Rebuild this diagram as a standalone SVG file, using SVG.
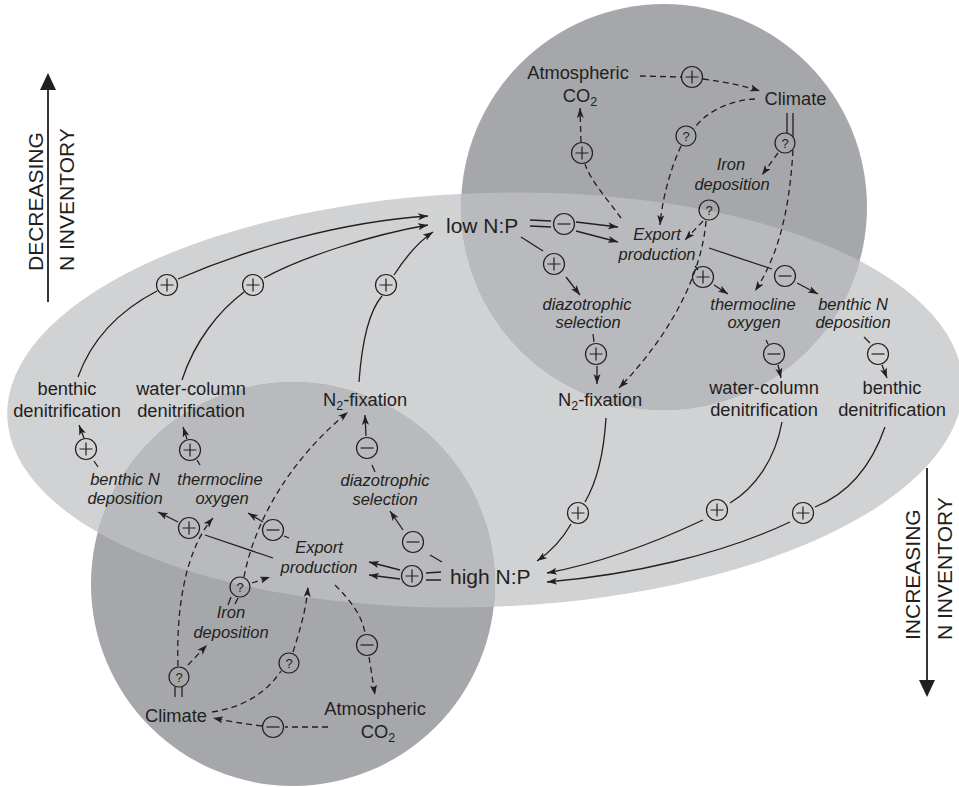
<svg xmlns="http://www.w3.org/2000/svg" xmlns:xlink="http://www.w3.org/1999/xlink" width="959" height="787" viewBox="0 0 959 787">
<style>
.t{font-family:"Liberation Sans",Arial,sans-serif;font-size:18.3px;fill:#231f20;text-anchor:middle}
.i{font-style:italic;font-size:16.5px}
.b{font-size:21px;text-anchor:start}
.q{font-size:13px}
.s{stroke:#231f20;stroke-width:1.3;fill:none}
.d{stroke-dasharray:6 4}
.c{fill:none;stroke:#231f20;stroke-width:1.2}
.ax{stroke:#231f20;stroke-width:1.8;fill:none}
</style>
<defs>
<marker id="a" markerUnits="userSpaceOnUse" markerWidth="10" markerHeight="8" refX="10" refY="3.5" orient="auto">
<path d="M0,0 L10,3.5 L0,7 L2.5,3.5 Z" fill="#231f20"/>
</marker>
<g id="p"><circle class="c" r="10.5"/><path class="c" d="M-6.5 0H6.5M0 -6.5V6.5"/></g>
<g id="m"><circle class="c" r="10.5"/><path class="c" d="M-6.5 0H6.5"/></g>
<circle id="qc" class="c" r="10"/>
<clipPath id="ec"><ellipse cx="485" cy="400" rx="478" ry="207" transform="rotate(-2 485 400)"/></clipPath>
</defs>
<rect width="959" height="787" fill="#fff"/>
<g id="background">
<ellipse cx="485" cy="400" rx="478" ry="207" transform="rotate(-2 485 400)" fill="#d1d2d4"/>
<circle cx="664" cy="207" r="203" fill="#a6a7aa"/>
<circle cx="293" cy="584" r="202" fill="#a6a7aa"/>
<g clip-path="url(#ec)" fill="#b9babd">
<circle cx="664" cy="207" r="203"/>
<circle cx="293" cy="584" r="202"/>
</g>
</g>

<g id="axes">
<path class="ax" d="M48 88V302"/>
<polygon points="48,73 40,90 56,90" fill="#231f20"/>
<text class="t b" transform="translate(43,271) rotate(-90)">DECREASING</text>
<text class="t b" transform="translate(74,271) rotate(-90)">N INVENTORY</text>
<path class="ax" d="M927 468V683"/>
<polygon points="927,697 919,680 935,680" fill="#231f20"/>
<text class="t b" transform="translate(920,640) rotate(-90)">INCREASING</text>
<text class="t b" transform="translate(952,640) rotate(-90)">N INVENTORY</text>
</g>

<g id="connectors">
<!-- left solid loops to low N:P -->
<path class="s" d="M78 377C95 330 130 305 157 291"/>
<path class="s" d="M178 279C250 248 340 222 428 216" marker-end="url(#a)"/>
<path class="s" d="M182 380C195 340 220 310 244 292"/>
<path class="s" d="M264 278C300 258 370 235 428 225" marker-end="url(#a)"/>
<path class="s" d="M359 382C362 340 370 310 382 296"/>
<path class="s" d="M394 275C405 258 418 242 433 232" marker-end="url(#a)"/>
<!-- low N:P -->
<path class="s" d="M530 220L551 221M530 226L551 227"/>
<path class="s" d="M576 222L618 227" marker-end="url(#a)"/>
<path class="s" d="M576 231L618 242" marker-end="url(#a)"/>
<path class="s" d="M521 237L543 251"/>
<path class="s" d="M566 277L580 295" marker-end="url(#a)"/>
<path class="s" d="M593 334L594 342"/>
<path class="s" d="M597 366L597 384" marker-end="url(#a)"/>
<path class="s" d="M695 266L698 270"/>
<path class="s" d="M714 285L728 294" marker-end="url(#a)"/>
<path class="s" d="M709 248L772 269"/>
<path class="s" d="M797 283L818 294" marker-end="url(#a)"/>
<path class="s" d="M766 340L768 344"/>
<path class="s" d="M778 365L781 378" marker-end="url(#a)"/>
<path class="s" d="M864 337L870 343"/>
<path class="s" d="M882 365L887 378" marker-end="url(#a)"/>
<!-- right solid loops to high N:P -->
<path class="s" d="M606 418C604 450 598 480 585 502"/>
<path class="s" d="M571 524C562 540 550 552 537 561" marker-end="url(#a)"/>
<path class="s" d="M782 422C775 460 755 488 730 503"/>
<path class="s" d="M703 520C650 545 600 563 547 573" marker-end="url(#a)"/>
<path class="s" d="M885 427C870 470 845 495 815 507"/>
<path class="s" d="M790 522C720 555 630 575 547 582" marker-end="url(#a)"/>
<!-- high N:P -->
<path class="s" d="M426 573L441 572M426 580L441 580"/>
<path class="s" d="M400 570L369 562" marker-end="url(#a)"/>
<path class="s" d="M400 579L369 575" marker-end="url(#a)"/>
<path class="s" d="M442 562L430 555"/>
<path class="s" d="M403 530L390 511" marker-end="url(#a)"/>
<path class="s" d="M372 465L375 472"/>
<path class="s" d="M366 436L365 415" marker-end="url(#a)"/>
<path class="s" d="M284 536L289 538"/>
<path class="s" d="M263 522L248 513" marker-end="url(#a)"/>
<path class="s" d="M273 558L205 535"/>
<path class="s" d="M178 522L158 512" marker-end="url(#a)"/>
<path class="s" d="M200 465L197 460"/>
<path class="s" d="M187 439L183 427" marker-end="url(#a)"/>
<path class="s" d="M94 461L98 467"/>
<path class="s" d="M84 438L79 425" marker-end="url(#a)"/>
<!-- top circle dashed -->
<path class="s d" d="M640 76L681 77"/>
<path class="s d" d="M703 79C725 82 745 86 760 91" marker-end="url(#a)"/>
<path class="s d" d="M621 218C608 200 590 180 585 164"/>
<path class="s d" d="M581 142L580 108" marker-end="url(#a)"/>
<path class="s d" d="M755 99C730 100 705 112 694 129"/>
<path class="s d" d="M681 146C670 170 662 200 660 225" marker-end="url(#a)"/>
<path class="s" d="M787 113L787 133M793 113L793 137"/>
<path class="s d" d="M778 153L762 175" marker-end="url(#a)"/>
<path class="s d" d="M793 150C790 200 782 250 755 291" marker-end="url(#a)"/>
<path class="s d" d="M703 221L685 240" marker-end="url(#a)"/>
<path class="s d" d="M706 221C702 270 675 330 619 388" marker-end="url(#a)"/>
<!-- bottom circle dashed -->
<path class="s d" d="M335 585C350 600 362 615 365 633"/>
<path class="s d" d="M369 657L375 695" marker-end="url(#a)"/>
<path class="s d" d="M328 727L285 727"/>
<path class="s d" d="M262 726C245 724 228 721 213 718" marker-end="url(#a)"/>
<path class="s d" d="M212 712C240 708 265 695 281 671"/>
<path class="s d" d="M293 652C300 630 306 610 308 587" marker-end="url(#a)"/>
<path class="s" d="M175 687L175 697M182 687L182 697"/>
<path class="s d" d="M188 665L207 645" marker-end="url(#a)"/>
<path class="s d" d="M178 666C176 610 185 550 213 518" marker-end="url(#a)"/>
<path class="s" d="M228 605L231 597M235 604L238 598"/>
<path class="s d" d="M252 583L270 577" marker-end="url(#a)"/>
<path class="s d" d="M244 577C255 520 290 460 348 412" marker-end="url(#a)"/>
</g>

<g id="signs">
<use xlink:href="#p" x="167" y="285"/>
<use xlink:href="#p" x="253" y="285"/>
<use xlink:href="#p" x="386" y="285"/>
<use xlink:href="#m" x="564" y="224"/>
<use xlink:href="#p" x="554" y="264"/>
<use xlink:href="#p" x="596" y="354"/>
<use xlink:href="#p" x="703" y="277"/>
<use xlink:href="#m" x="785" y="276"/>
<use xlink:href="#m" x="774" y="354"/>
<use xlink:href="#m" x="878" y="354"/>
<use xlink:href="#p" x="578" y="513"/>
<use xlink:href="#p" x="717" y="510"/>
<use xlink:href="#p" x="803" y="513"/>
<use xlink:href="#p" x="692" y="77"/>
<use xlink:href="#p" x="582" y="153"/>
<use xlink:href="#p" x="412" y="576"/>
<use xlink:href="#m" x="413" y="542"/>
<use xlink:href="#m" x="367" y="448"/>
<use xlink:href="#m" x="273" y="530"/>
<use xlink:href="#p" x="189" y="528"/>
<use xlink:href="#p" x="190" y="450"/>
<use xlink:href="#p" x="86" y="449"/>
<use xlink:href="#m" x="367" y="645"/>
<use xlink:href="#m" x="273" y="727"/>
<g id="q1"><use xlink:href="#qc" x="686" y="136"/><text class="t q" x="686" y="140.5">?</text></g>
<g id="q2"><use xlink:href="#qc" x="785" y="143"/><text class="t q" x="785" y="147.5">?</text></g>
<g id="q3"><use xlink:href="#qc" x="709" y="210"/><text class="t q" x="709" y="214.5">?</text></g>
<g id="q4"><use xlink:href="#qc" x="240" y="587"/><text class="t q" x="240" y="591.5">?</text></g>
<g id="q5"><use xlink:href="#qc" x="179" y="677"/><text class="t q" x="179" y="681.5">?</text></g>
<g id="q6"><use xlink:href="#qc" x="289" y="663"/><text class="t q" x="289" y="667.5">?</text></g>
</g>

<g id="n-atm-top"><text class="t" x="578" y="79">Atmospheric</text><text class="t" x="580" y="102">CO<tspan font-size="12.5" dy="4">2</tspan></text></g>
<g id="n-climate-top"><text class="t" x="795.5" y="105">Climate</text></g>
<g id="n-iron-top"><text class="t i" x="731" y="170">Iron</text><text class="t i" x="732" y="190">deposition</text></g>
<g id="n-lownp"><text class="t b" x="446" y="233">low N:P</text></g>
<g id="n-export-top"><text class="t i" x="657" y="240">Export</text><text class="t i" x="657" y="260">production</text></g>
<g id="n-diaz-top"><text class="t i" x="587" y="310">diazotrophic</text><text class="t i" x="588" y="328">selection</text></g>
<g id="n-thermo-top"><text class="t i" x="753" y="310">thermocline</text><text class="t i" x="754" y="328">oxygen</text></g>
<g id="n-bnd-top"><text class="t i" x="853" y="310">benthic N</text><text class="t i" x="853" y="328">deposition</text></g>
<g id="n-n2fix-right"><text class="t" x="558" y="406" text-anchor="start" style="text-anchor:start">N<tspan font-size="12.5" dy="4">2</tspan><tspan dy="-4">-fixation</tspan></text></g>
<g id="n-wcd-right"><text class="t" x="764" y="394">water-column</text><text class="t" x="764" y="416">denitrification</text></g>
<g id="n-bd-right"><text class="t" x="892" y="394">benthic</text><text class="t" x="892" y="416">denitrification</text></g>
<g id="n-bd-left"><text class="t" x="67" y="395">benthic</text><text class="t" x="67" y="417">denitrification</text></g>
<g id="n-wcd-left"><text class="t" x="191" y="395">water-column</text><text class="t" x="191" y="417">denitrification</text></g>
<g id="n-n2fix-left"><text class="t" x="323" y="406" style="text-anchor:start">N<tspan font-size="12.5" dy="4">2</tspan><tspan dy="-4">-fixation</tspan></text></g>
<g id="n-bnd-bottom"><text class="t i" x="125" y="485">benthic N</text><text class="t i" x="125" y="504">deposition</text></g>
<g id="n-thermo-bottom"><text class="t i" x="220" y="485">thermocline</text><text class="t i" x="222" y="504">oxygen</text></g>
<g id="n-diaz-bottom"><text class="t i" x="385" y="486">diazotrophic</text><text class="t i" x="385" y="505">selection</text></g>
<g id="n-export-bottom"><text class="t i" x="319" y="553">Export</text><text class="t i" x="319" y="573">production</text></g>
<g id="n-highnp"><text class="t b" x="450" y="584">high N:P</text></g>
<g id="n-iron-bottom"><text class="t i" x="231" y="618">Iron</text><text class="t i" x="231" y="638">deposition</text></g>
<g id="n-climate-bottom"><text class="t" x="176" y="722">Climate</text></g>
<g id="n-atm-bottom"><text class="t" x="375" y="715">Atmospheric</text><text class="t" x="378" y="738">CO<tspan font-size="12.5" dy="4">2</tspan></text></g>
</svg>
